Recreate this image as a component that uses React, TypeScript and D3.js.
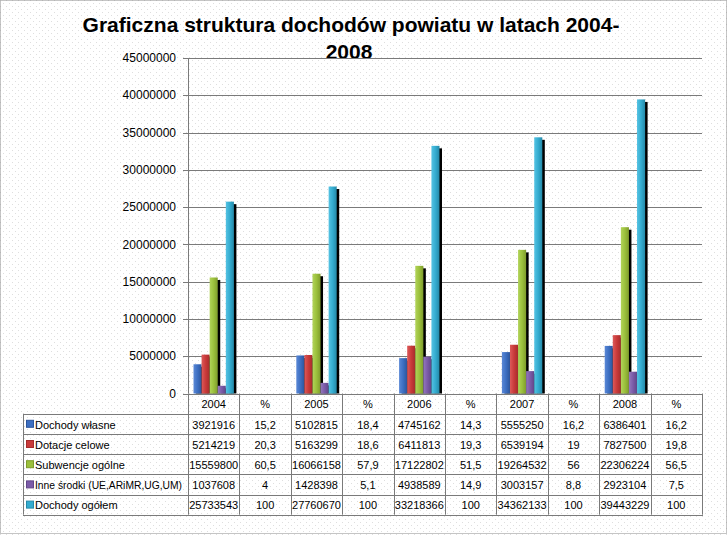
import React from "react";
import * as d3 from "d3";

const years = ["2004", "2005", "2006", "2007", "2008"];
const tableColumns = ["2004", "%", "2005", "%", "2006", "%", "2007", "%", "2008", "%"];
const seriesNames = [
  "Dochody własne",
  "Dotacje celowe",
  "Subwencje ogólne",
  "Inne środki (UE,ARiMR,UG,UM)",
  "Dochody ogółem",
];
const dochodyWlasne = [3921916, 5102815, 4745162, 5555250, 6386401];
const dochodyWlasnePct = ["15,2", "18,4", "14,3", "16,2", "16,2"];
const dotacjeCelowe = [5214219, 5163299, 6411813, 6539194, 7827500];
const dotacjeCelowePct = ["20,3", "18,6", "19,3", "19", "19,8"];
const subwencjeOgolne = [15559800, 16066158, 17122802, 19264532, 22306224];
const subwencjeOgolnePct = ["60,5", "57,9", "51,5", "56", "56,5"];
const inneSrodki = [1037608, 1428398, 4938589, 3003157, 2923104];
const inneSrodkiPct = ["4", "5,1", "14,9", "8,8", "7,5"];
const dochodyOgolem = [25733543, 27760670, 33218366, 34362133, 39443229];
const dochodyOgolemPct = ["100", "100", "100", "100", "100"];
const yTicks = [0, 5000000, 10000000, 15000000, 20000000, 25000000, 30000000, 35000000, 40000000, 45000000];

const seriesValues = [dochodyWlasne, dotacjeCelowe, subwencjeOgolne, inneSrodki, dochodyOgolem];
const seriesPct = [dochodyWlasnePct, dotacjeCelowePct, subwencjeOgolnePct, inneSrodkiPct, dochodyOgolemPct];
const colors = ["#3d6fc2", "#c93a3a", "#9bc03c", "#7b5ba8", "#34acd0"];
const lightColors = ["#5a88d6", "#dc5a5a", "#b2d45a", "#9478bd", "#55c3e3"];
const darkColors = ["#2c559b", "#a52c2c", "#7f9c2c", "#614688", "#2589a8"];

const W = 728;
const H = 535;
const left = 188;
const right = 702;
const top = 58;
const base = 393.5;
const tableLeft = 23;
const rowH = 20.2;
const font = "Arial, 'Liberation Sans', sans-serif";

export default function App() {
  const x = d3.scaleBand<string>().domain(tableColumns.map((c, i) => String(i))).range([left, right]).padding(0);
  const y = d3.scaleLinear().domain([0, 45000000]).range([base, top]);
  const inner = d3
    .scaleBand<number>()
    .domain(d3.range(seriesNames.length))
    .range([0, x.bandwidth()])
    .paddingInner(0)
    .paddingOuter(0.68);
  const bw = inner.bandwidth();

  const rowsTop = base + rowH;

  return (
    <svg width={W} height={H} style={{ position: "absolute", left: 0, top: 0 }} fontFamily={font}>
      <defs>
        <pattern id="dots" width="6" height="6" patternUnits="userSpaceOnUse">
          <rect width="6" height="6" fill="#ffffff" />
          <rect x="0" y="0" width="1" height="1" fill="#dedede" />
          <rect x="3" y="3" width="1" height="1" fill="#dedede" />
        </pattern>
        {colors.map((c, i) => (
          <linearGradient key={i} id={`g${i}`} x1="0" x2="1" y1="0" y2="0">
            <stop offset="0" stopColor={lightColors[i]} />
            <stop offset="0.5" stopColor={c} />
            <stop offset="1" stopColor={darkColors[i]} />
          </linearGradient>
        ))}
      </defs>
      <rect x={0} y={0} width={W} height={H} fill="url(#dots)" />
      <rect x={0.5} y={0.5} width={W - 2} height={H - 2} fill="none" stroke="#8a8a8a" strokeDasharray="1 1" />

      {/* title */}
      <text x={351} y={32} textAnchor="middle" fontSize={21} fontWeight="bold" fill="#000">
        Graficzna struktura dochodów powiatu w latach 2004-
      </text>
      <text x={349} y={59} textAnchor="middle" fontSize={21} fontWeight="bold" fill="#000">
        2008
      </text>

      {/* gridlines */}
      {yTicks.map((t) => (
        <g key={t}>
          <line x1={left - 5} x2={right} y1={Math.round(y(t)) + 0.5} y2={Math.round(y(t)) + 0.5} stroke="#7a7a7a" />
          <text x={176} y={y(t)} dy="0.35em" textAnchor="end" fontSize={12} fill="#000">
            {String(t)}
          </text>
        </g>
      ))}
      <line x1={left + 0.5} x2={left + 0.5} y1={top} y2={base} stroke="#7a7a7a" />

      {/* bars */}
      {years.map((yr, gi) => {
        const gx = x(String(gi * 2)) as number;
        return (
          <g key={yr}>
            {seriesValues.map((vals, si) => {
              const bx = gx + (inner(si) as number);
              const by = y(vals[gi]);
              return (
                <g key={si}>
                  <rect x={bx + 2.5} y={by + 2.5} width={bw} height={base - by - 2.5} fill="#000" />
                  <rect x={bx} y={by} width={bw} height={base - by} fill={`url(#g${si})`} />
                </g>
              );
            })}
          </g>
        );
      })}

      {/* table */}
      <g stroke="#7a7a7a" fill="none">
        {tableColumns.map((c, i) => (
          <line
            key={i}
            x1={Math.round(x(String(i)) as number) + 0.5}
            x2={Math.round(x(String(i)) as number) + 0.5}
            y1={base}
            y2={rowsTop + rowH * seriesNames.length}
          />
        ))}
        <line x1={right + 0.5} x2={right + 0.5} y1={base} y2={rowsTop + rowH * seriesNames.length} />
        <line x1={tableLeft + 0.5} x2={tableLeft + 0.5} y1={rowsTop} y2={rowsTop + rowH * seriesNames.length} />
        {d3.range(seriesNames.length + 1).map((r) => (
          <line
            key={r}
            x1={tableLeft}
            x2={right + 1}
            y1={Math.round(rowsTop + r * rowH) + 0.5}
            y2={Math.round(rowsTop + r * rowH) + 0.5}
          />
        ))}
      </g>
      {tableColumns.map((c, i) => (
        <text
          key={i}
          x={(x(String(i)) as number) + x.bandwidth() / 2}
          y={base + rowH / 2 + 1}
          dy="0.35em"
          textAnchor="middle"
          fontSize={11}
          fill="#000"
        >
          {c}
        </text>
      ))}
      {seriesNames.map((name, si) => {
        const ry = rowsTop + si * rowH + rowH / 2 + 1;
        const long = name.length > 20;
        return (
          <g key={name}>
            <rect x={26.5} y={ry - 4.5} width={7} height={7} fill={colors[si]} stroke={darkColors[si]} />
            <text
              x={35}
              y={ry}
              dy="0.35em"
              fontSize={11}
              fill="#000"
              textLength={long ? 147 : undefined}
              lengthAdjust={long ? "spacingAndGlyphs" : undefined}
            >
              {name}
            </text>
            {years.map((yr, gi) => (
              <g key={yr}>
                <text
                  x={(x(String(gi * 2)) as number) + x.bandwidth() / 2}
                  y={ry}
                  dy="0.35em"
                  textAnchor="middle"
                  fontSize={11}
                  fill="#000"
                >
                  {String(seriesValues[si][gi])}
                </text>
                <text
                  x={(x(String(gi * 2 + 1)) as number) + x.bandwidth() / 2}
                  y={ry}
                  dy="0.35em"
                  textAnchor="middle"
                  fontSize={11}
                  fill="#000"
                >
                  {seriesPct[si][gi]}
                </text>
              </g>
            ))}
          </g>
        );
      })}
    </svg>
  );
}
